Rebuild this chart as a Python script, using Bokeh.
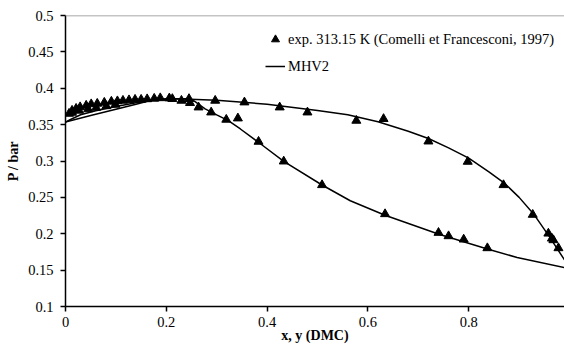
from bokeh.plotting import figure
from bokeh.models import Range1d, FixedTicker, CustomJSTickFormatter, Span, Legend, LegendItem
from bokeh.embed import file_html
from bokeh.resources import INLINE

# experimental points (Comelli et Francesconi, 1997), 313.15 K
exp_x = [0.007, 0.013, 0.021, 0.029, 0.041, 0.051, 0.063, 0.077, 0.091, 0.103,
         0.114, 0.126, 0.138, 0.150, 0.162, 0.176, 0.188, 0.206, 0.212, 0.230,
         0.013, 0.027, 0.045, 0.061, 0.081, 0.099,
         0.245, 0.297, 0.355, 0.425, 0.480, 0.577, 0.631, 0.720, 0.798, 0.869,
         0.927, 0.958, 0.965, 0.968, 0.978,
         0.247, 0.264, 0.289, 0.319, 0.342, 0.383, 0.433, 0.509, 0.634, 0.740,
         0.760, 0.790, 0.837]
exp_p = [0.3651, 0.3693, 0.3720, 0.3741, 0.3762, 0.3782, 0.3789, 0.3803, 0.3817, 0.3823,
         0.3830, 0.3837, 0.3844, 0.3844, 0.3851, 0.3858, 0.3865, 0.3862, 0.3854, 0.3830,
         0.3665, 0.3693, 0.3713, 0.3734, 0.3755, 0.3775,
         0.3854, 0.3830, 0.3807, 0.3738, 0.3669, 0.3555, 0.3579, 0.3270, 0.2991, 0.2670,
         0.2262, 0.2004, 0.1935, 0.1913, 0.1803,
         0.3799, 0.3738, 0.3669, 0.3569, 0.3587, 0.3266, 0.2995, 0.2670, 0.2271, 0.2014,
         0.1968, 0.1922, 0.1803]

# MHV2 model: bubble curve P(x)
bub_x = [0.0, 0.01, 0.03, 0.06, 0.10, 0.14, 0.18, 0.22, 0.30, 0.40, 0.50, 0.56,
         0.62, 0.68, 0.72, 0.76, 0.80, 0.84, 0.87, 0.90, 0.93, 0.96, 0.99]
bub_p = [0.3535, 0.3570, 0.3635, 0.3690, 0.3750, 0.3800, 0.3843, 0.3857, 0.3835, 0.3780,
         0.3695, 0.3635, 0.3540, 0.3410, 0.3310, 0.3180, 0.3040, 0.2850, 0.2700, 0.2500,
         0.2260, 0.1960, 0.1640]
# MHV2 model: dew curve P(y)
dew_x = [0.0, 0.05, 0.10, 0.14, 0.17, 0.20, 0.24, 0.255, 0.277, 0.30, 0.323, 0.347,
         0.39, 0.433, 0.509, 0.565, 0.634, 0.741, 0.837, 0.896, 0.99]
dew_p = [0.3535, 0.3625, 0.3712, 0.3780, 0.3835, 0.3857, 0.3857, 0.3825, 0.3716, 0.3635,
         0.3555, 0.3440, 0.3220, 0.2995, 0.2670, 0.2454, 0.2255, 0.1993, 0.1790, 0.1674,
         0.1536]

x_ticks = [0, 0.2, 0.4, 0.6, 0.8]
y_ticks = [0.1, 0.15, 0.2, 0.25, 0.3, 0.35, 0.4, 0.45, 0.5]

FONT = "Liberation Serif"

p = figure(width=564, height=348, output_backend="svg", toolbar_location=None,
           x_range=Range1d(0, 0.99), y_range=Range1d(0.1, 0.5),
           min_border_left=65, min_border_right=0, min_border_top=15, min_border_bottom=42)
p.outline_line_color = None
p.xgrid.visible = False
p.ygrid.visible = False
p.background_fill_color = "white"
p.border_fill_color = "white"

p.add_layout(Span(location=0.5, dimension="width", line_color="#8a8a8a", line_width=1.5))

fmt = CustomJSTickFormatter(code="return String(parseFloat(tick.toFixed(2)));")
for ax, ticks in ((p.xaxis[0], x_ticks), (p.yaxis[0], y_ticks)):
    ax.ticker = FixedTicker(ticks=ticks)
    ax.formatter = fmt
    ax.minor_tick_line_color = None
    ax.major_tick_in = 0
    ax.major_tick_out = 5
    ax.major_tick_line_width = 1.5
    ax.axis_line_width = 1.5
    ax.axis_line_color = "black"
    ax.major_label_text_font = FONT
    ax.major_label_text_font_size = "14.5px"
    ax.major_label_text_color = "black"
    ax.axis_label_text_font = FONT
    ax.axis_label_text_font_size = "14px"
    ax.axis_label_text_font_style = "bold"
    ax.axis_label_text_color = "black"

p.xaxis.axis_label = "x, y (DMC)"
p.yaxis.axis_label = "P / bar"
p.xaxis.major_label_standoff = 5
p.xaxis.axis_label_standoff = -2
p.yaxis.major_label_standoff = 7
p.yaxis.axis_label_standoff = 4

l1 = p.line(bub_x, bub_p, line_color="black", line_width=1.5)
p.line(dew_x, dew_p, line_color="black", line_width=1.5)
sc = p.scatter(exp_x, exp_p, marker="triangle", size=9, fill_color="black", line_color="black")

legend = Legend(items=[LegendItem(label="exp. 313.15 K (Comelli et Francesconi, 1997)", renderers=[sc]),
                       LegendItem(label="MHV2", renderers=[l1])],
                location=(200, 230), orientation="vertical",
                background_fill_alpha=0, border_line_alpha=0,
                label_text_font=FONT, label_text_font_size="14.5px", label_text_color="black",
                glyph_width=20, glyph_height=20, label_height=20, spacing=7,
                label_standoff=3, padding=0, margin=0)
p.add_layout(legend)

open("out.html", "w").write(file_html(p, INLINE))
